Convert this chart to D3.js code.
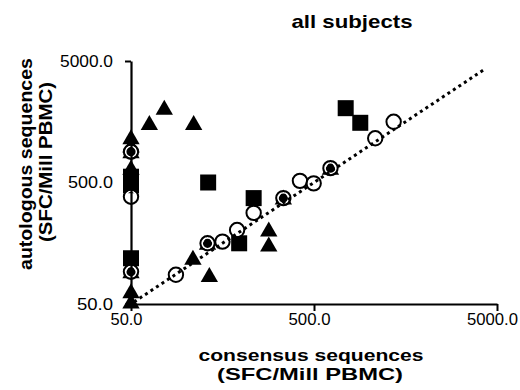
<!DOCTYPE html>
<html>
<head>
<meta charset="utf-8">
<script src="https://cdn.jsdelivr.net/npm/d3@7/dist/d3.min.js"></script>
<style>
  html, body { margin: 0; padding: 0; background: #fff; }
  svg { display: block; font-family: "Liberation Sans", Arial, sans-serif; }
</style>
</head>
<body>
<svg id="chart" width="520" height="390"></svg>
<script>
// Spot-forming cells per million PBMC: consensus (x) vs autologous (y) peptides
const tickValues = [50, 500, 5000];
const triX = [50, 50, 50, 50, 50, 50, 50, 63, 76, 110, 109, 134, 131, 340, 283, 283, 615];
const triY = [1166, 896, 656, 92, 63, 52, 1000, 1530, 2045, 1530, 119, 86, 158, 372, 203, 153, 656];
const sqX = [50, 50, 50, 132, 234, 195, 745, 895];
const sqY = [558, 475, 119, 500, 372, 158, 2045, 1550];
const circX = [50, 50, 50, 88, 131, 158, 190, 234, 340, 419, 498, 615, 1080, 1362];
const circY = [896, 382, 92, 87, 158, 163, 203, 281, 372, 516, 492, 656, 1155, 1580];
const identity = [52, 4200];

const svg = d3.select("#chart");
const x = d3.scaleLog().domain([50, 5000]).range([131, 497]);
const y = d3.scaleLog().domain([50, 5000]).range([304, 61]);
const fmt = d3.format(".1f");
const yLabelWidth = { "50.0": 36, "500.0": 45, "5000.0": 53 };
const xLabelWidth = { "50.0": 32, "500.0": 42, "5000.0": 51 };

// markers
const tri = d3.symbol().type(d3.symbolTriangle).size(130);
svg.append("g").selectAll("path").data(d3.zip(triX, triY)).join("path")
  .attr("d", tri)
  .attr("transform", d => `translate(${x(d[0])},${y(d[1]) + 1.5})`)
  .attr("fill", "#000");

svg.append("g").selectAll("rect").data(d3.zip(sqX, sqY)).join("rect")
  .attr("x", d => x(d[0]) - 8).attr("y", d => y(d[1]) - 8)
  .attr("width", 16).attr("height", 16)
  .attr("fill", "#000");

const circ = svg.append("g").selectAll("g").data(d3.zip(circX, circY)).join("g")
  .attr("transform", d => `translate(${x(d[0])},${y(d[1])})`);
circ.append("circle").attr("r", 5.4).attr("fill", "none").attr("stroke", "#fff").attr("stroke-width", 1.6);
circ.append("circle").attr("r", 7.2).attr("fill", "none").attr("stroke", "#000").attr("stroke-width", 2);

// line of identity
svg.append("path")
  .attr("d", d3.line().x(d => x(d)).y(d => y(d))(identity))
  .attr("fill", "none").attr("stroke", "#000")
  .attr("stroke-width", 3).attr("stroke-dasharray", "3 3.6");

// axes
const yAxis = svg.append("g").attr("transform", `translate(${x(50)},0)`)
  .call(d3.axisLeft(y).tickValues(tickValues).tickFormat(fmt).tickSize(6).tickSizeOuter(0).tickPadding(12));
const xAxis = svg.append("g").attr("transform", `translate(0,${y(50)})`)
  .call(d3.axisBottom(x).tickValues(tickValues).tickFormat(fmt).tickSize(7).tickSizeOuter(0).tickPadding(3));
[yAxis, xAxis].forEach(a => {
  a.select(".domain").attr("stroke-width", 2.2);
  a.selectAll(".tick line").attr("stroke-width", 2);
  a.selectAll(".tick text")
    .attr("font-size", 16).attr("fill", "#000")
    .attr("font-family", "Liberation Sans, Arial, sans-serif")
    .attr("lengthAdjust", "spacingAndGlyphs");
});
yAxis.selectAll(".tick text").attr("textLength", d => yLabelWidth[fmt(d)]);
xAxis.selectAll(".tick text").attr("textLength", d => xLabelWidth[fmt(d)]).attr("dx", -5);

// titles
svg.append("text").attr("x", 352).attr("y", 28).attr("text-anchor", "middle")
  .attr("font-size", 19).attr("font-weight", "bold")
  .attr("textLength", 121).attr("lengthAdjust", "spacingAndGlyphs")
  .text("all subjects");

const xl = svg.append("g").attr("font-size", 17).attr("font-weight", "bold").attr("text-anchor", "middle");
xl.append("text").attr("x", 311).attr("y", 361).attr("textLength", 225).attr("lengthAdjust", "spacingAndGlyphs").text("consensus sequences");
xl.append("text").attr("x", 310).attr("y", 380).attr("textLength", 186).attr("lengthAdjust", "spacingAndGlyphs").text("(SFC/Mill PBMC)");

const yl = svg.append("g").attr("font-size", 18).attr("font-weight", "bold").attr("text-anchor", "middle");
yl.append("text").attr("transform", "translate(32,164) rotate(-90)").attr("textLength", 212).attr("lengthAdjust", "spacingAndGlyphs").text("autologous sequences");
yl.append("text").attr("transform", "translate(52,162) rotate(-90)").attr("textLength", 160).attr("lengthAdjust", "spacingAndGlyphs").text("(SFC/Mill PBMC)");
</script>
</body>
</html>
